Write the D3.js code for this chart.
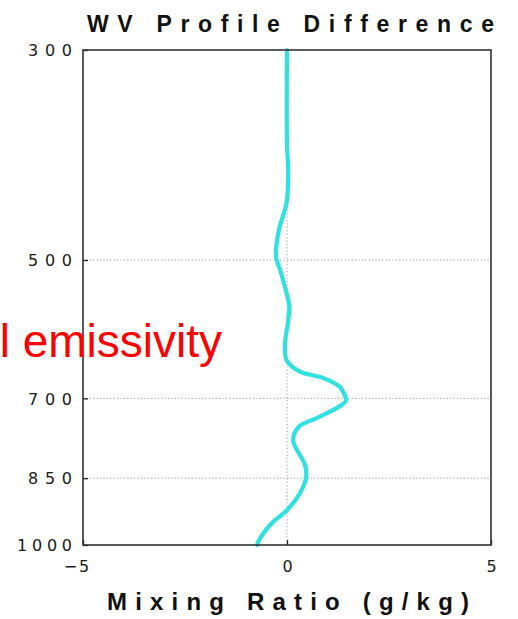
<!DOCTYPE html>
<html>
<head>
<meta charset="utf-8">
<script src="https://cdn.jsdelivr.net/npm/d3@7"></script>
<style>
  html, body { margin: 0; padding: 0; background: #fff; }
  svg { display: block; font-family: "Liberation Sans", Arial, Helvetica, sans-serif; }
</style>
</head>
<body>
<svg id="chart" width="518" height="619"></svg>
<script>
// Pressure levels (hPa) of the water-vapour profile difference
const pressure = [300, 378, 402, 435, 465, 496, 512, 551, 560, 583, 615, 638, 656, 666,
                  681, 686, 703, 711, 734, 750, 775, 823, 848, 881, 919, 948, 993, 1000];
// Mixing-ratio difference (g/kg) at each level
const mixingDiff = [0.00, 0.00, 0.03, -0.01, -0.20, -0.27, -0.17, 0.03, 0.06, 0.02, -0.05, -0.01, 0.32, 0.88,
                    1.30, 1.35, 1.45, 1.35, 0.74, 0.29, 0.15, 0.44, 0.47, 0.32, 0.00, -0.37, -0.71, -0.73];

const xTicks = [-5, 0, 5];
const yTicks = [300, 500, 700, 850, 1000];
const gridPressures = [500, 700, 850];
const gridMixing = [0];

const titleText = "WV Profile Difference";
const xTitleText = "Mixing Ratio (g/kg)";
const sideText = "l emissivity";

const svg = d3.select("#chart");
const plotLeft = 83, plotRight = 491, plotTop = 50, plotBottom = 545;

const x = d3.scaleLinear().domain([-5, 5]).range([plotLeft, plotRight]);
const y = d3.scaleLog().domain([300, 1000]).range([plotTop, plotBottom]);

// dotted grid
svg.append("g").selectAll("line").data(gridPressures).join("line")
  .attr("x1", plotLeft).attr("x2", plotRight)
  .attr("y1", d => y(d)).attr("y2", d => y(d))
  .attr("stroke", "#9a9a9a").attr("stroke-width", 1)
  .attr("stroke-dasharray", "1.2,2.2");
svg.append("g").selectAll("line").data(gridMixing).join("line")
  .attr("x1", d => x(d)).attr("x2", d => x(d))
  .attr("y1", plotTop).attr("y2", plotBottom)
  .attr("stroke", "#9a9a9a").attr("stroke-width", 1)
  .attr("stroke-dasharray", "1.2,2.2");

// profile curve
const line = d3.line()
  .x((d, i) => x(mixingDiff[i]))
  .y(d => y(d))
  .curve(d3.curveCatmullRom.alpha(0.5));
svg.append("path")
  .datum(pressure)
  .attr("d", line)
  .attr("fill", "none")
  .attr("stroke", "#2fe2e0")
  .attr("stroke-width", 4.2)
  .attr("stroke-linejoin", "round")
  .attr("stroke-linecap", "round");

// axes
const tickFont = "'DejaVu Sans', 'Liberation Sans', Arial, sans-serif";
const yAxis = svg.append("g").attr("transform", `translate(${plotLeft},0)`)
  .call(d3.axisLeft(y).tickValues(yTicks).tickFormat(d3.format("d")).tickSize(-5).tickPadding(11));
const xAxis = svg.append("g").attr("transform", `translate(0,${plotBottom})`)
  .call(d3.axisBottom(x).tickValues(xTicks).tickFormat(d3.format("d")).tickSize(-5).tickPadding(16));

[yAxis, xAxis].forEach(g => {
  g.attr("font-size", 16).attr("font-family", tickFont);
  g.select(".domain").remove();
  g.selectAll(".tick line").attr("stroke", "#222").attr("stroke-width", 1.3);
  g.selectAll(".tick text").attr("fill", "#1a1a1a").attr("font-size", 16).attr("font-family", tickFont);
});
yAxis.selectAll(".tick text")
  .attr("dy", "0.36em")
  .attr("textLength", d => String(d).length === 4 ? 55 : 44)
  .attr("lengthAdjust", "spacing");
xAxis.selectAll(".tick text")
  .attr("dx", d => d < 0 ? -6 : 1)
  .attr("letter-spacing", 2);

// frame
svg.append("rect")
  .attr("x", plotLeft).attr("y", plotTop)
  .attr("width", plotRight - plotLeft).attr("height", plotBottom - plotTop)
  .attr("fill", "none").attr("stroke", "#333").attr("stroke-width", 1.6);

// title
svg.append("text")
  .attr("x", 87).attr("y", 32)
  .attr("font-size", 23).attr("font-weight", "bold").attr("fill", "#111")
  .attr("textLength", 407).attr("lengthAdjust", "spacing")
  .text(titleText);

// x axis title
svg.append("text")
  .attr("x", 107).attr("y", 610)
  .attr("font-size", 24).attr("font-weight", "bold").attr("fill", "#111")
  .attr("textLength", 362).attr("lengthAdjust", "spacing")
  .text(xTitleText);

// red overlay caption
svg.append("text")
  .attr("x", 222).attr("y", 357)
  .attr("text-anchor", "end")
  .attr("font-size", 46).attr("fill", "#ff0000")
  .text(sideText);
</script>
</body>
</html>
